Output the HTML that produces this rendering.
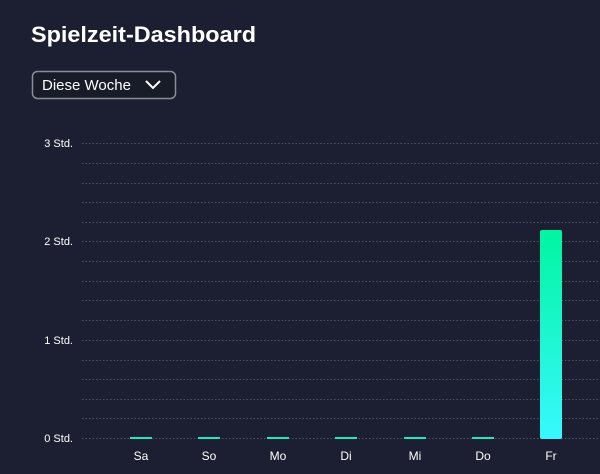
<!DOCTYPE html><html><head><style>body{margin:0;width:600px;height:474px;background:#1c1f31;overflow:hidden;font-family:"Liberation Sans",sans-serif;color:#fff}</style></head><body>
<svg width="600" height="474" style="position:absolute;left:0;top:0">
<defs><linearGradient id="g" x1="0" y1="0" x2="0" y2="1"><stop offset="0" stop-color="#00f5a0"/><stop offset="1" stop-color="#38f8ff"/></linearGradient></defs>
<text x="31" y="42" font-size="22" font-weight="bold" fill="#fff" textLength="225" lengthAdjust="spacingAndGlyphs">Spielzeit-Dashboard</text>
<rect x="32.5" y="71.5" width="143" height="27" rx="5" fill="#181b28" stroke="#8a8d99" stroke-width="1.5"/>
<text x="42" y="90" font-size="15" fill="#fff">Diese Woche</text>
<path d="M146 81 L153 88 L160 81" stroke="#fff" stroke-width="2" fill="none"/>
<g stroke="#4e5264" stroke-width="1" stroke-dasharray="1.5,2">
<line x1="82" x2="600" y1="143.5" y2="143.5"/><line x1="82" x2="600" y1="163.5" y2="163.5"/><line x1="82" x2="600" y1="183.5" y2="183.5"/><line x1="82" x2="600" y1="202.5" y2="202.5"/><line x1="82" x2="600" y1="222.5" y2="222.5"/><line x1="82" x2="600" y1="241.5" y2="241.5"/><line x1="82" x2="600" y1="261.5" y2="261.5"/><line x1="82" x2="600" y1="281.5" y2="281.5"/><line x1="82" x2="600" y1="300.5" y2="300.5"/><line x1="82" x2="600" y1="320.5" y2="320.5"/><line x1="82" x2="600" y1="340.5" y2="340.5"/><line x1="82" x2="600" y1="360.5" y2="360.5"/><line x1="82" x2="600" y1="379.5" y2="379.5"/><line x1="82" x2="600" y1="399.5" y2="399.5"/><line x1="82" x2="600" y1="418.5" y2="418.5"/><line x1="82" x2="600" y1="438.5" y2="438.5"/>
</g>
<g font-size="11" fill="#fff" text-anchor="end"><text x="73" y="147">3 Std.</text><text x="73" y="245">2 Std.</text><text x="73" y="344">1 Std.</text><text x="73" y="442">0 Std.</text></g>
<g fill="#1fe8c0"><rect x="130" y="437" width="22" height="2"/><rect x="198" y="437" width="22" height="2"/><rect x="267" y="437" width="22" height="2"/><rect x="335" y="437" width="22" height="2"/><rect x="404" y="437" width="22" height="2"/><rect x="472" y="437" width="22" height="2"/></g>
<rect x="540" y="230" width="22" height="209" rx="2" fill="url(#g)"/>
<g font-size="12" fill="#fff" text-anchor="middle"><text x="141" y="460">Sa</text><text x="209" y="460">So</text><text x="278" y="460">Mo</text><text x="346" y="460">Di</text><text x="415" y="460">Mi</text><text x="483" y="460">Do</text><text x="551" y="460">Fr</text></g>
</svg></body></html>
